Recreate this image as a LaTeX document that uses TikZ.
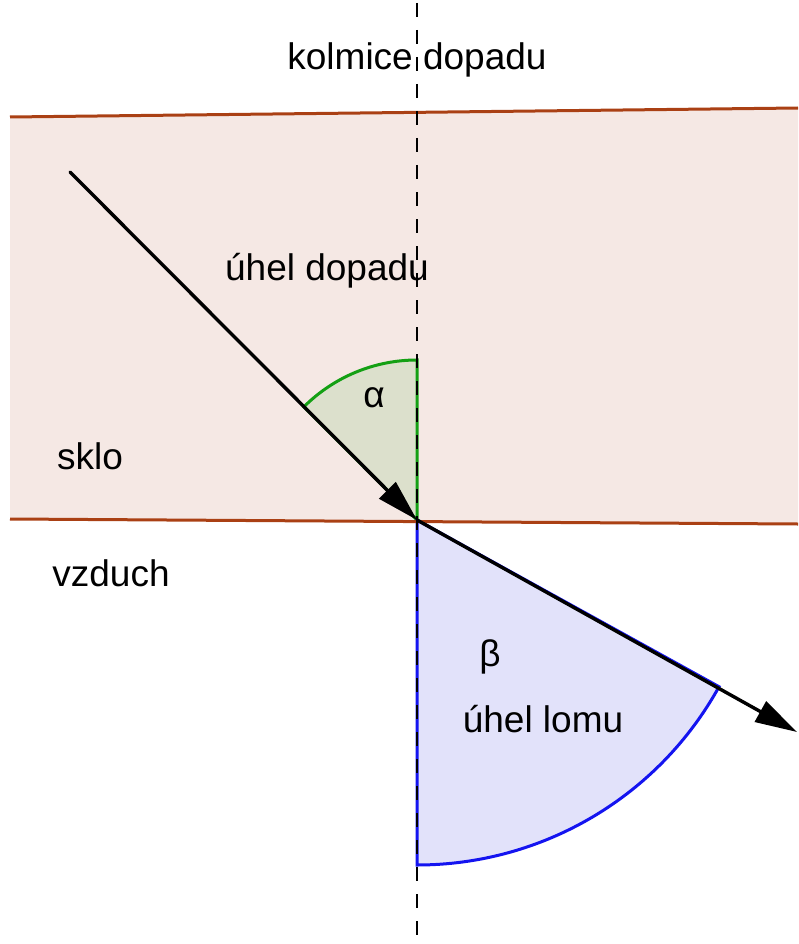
\documentclass[tikz,border=0pt]{standalone}
\usepackage{fontspec}
\setmainfont{Liberation Sans}
\usetikzlibrary{arrows.meta}
\definecolor{glass}{RGB}{245,232,228}
\definecolor{edge}{RGB}{170,64,20}
\definecolor{afill}{RGB}{220,224,204}
\definecolor{aline}{RGB}{20,160,20}
\definecolor{bfill}{RGB}{226,226,250}
\definecolor{bline}{RGB}{20,20,240}
\tikzset{
  lbl/.style={font=\fontsize{37}{44}\selectfont, inner sep=0pt},
  ray/.style={line width=3.4pt, line cap=round, -{Triangle[length=42pt,width=23pt]}},
  edgeline/.style={edge, line width=3pt},
  normal/.style={line width=2.6pt, dash pattern=on 14pt off 13pt},
}
\begin{document}
\begin{tikzpicture}[x=1pt,y=-1pt]
\useasboundingbox (0,0) rectangle (798,944);
% glass band
\coordinate (TL) at (10,117);
\coordinate (TR) at (798,108);
\coordinate (BL) at (10,519);
\coordinate (BR) at (798,524);
\coordinate (O) at (417,520);
\fill[glass] (TL) -- (TR) -- (BR) -- (BL) -- cycle;
% angle sectors
\filldraw[fill=afill, draw=aline, line width=3pt] (O) -- ++(0,-160) arc[start angle=-90, end angle=-135, radius=160] -- cycle;
\filldraw[fill=bfill, draw=bline, line width=3pt] (O) -- ++(0,345) arc[start angle=90, end angle=28.9, radius=345] -- cycle;
% boundary lines
\draw[edgeline] (TL) -- (TR);
\draw[edgeline] (BL) -- (BR);
% normal
\coordinate (N1) at (417,3);
\coordinate (N2) at (417,944);
\draw[normal] (N1) -- (N2);
% rays
\coordinate (S) at (70,172);
\coordinate (E) at (797,732);
\draw[ray] (S) -- (O);
\draw[ray] (O) -- (E);
% labels
\node[lbl] (kd) at (417,60) {kolmice dopadu};
\node[lbl] (ud) at (327,271) {úhel dopadu};
\node[lbl] (al) at (374,398) {α};
\node[lbl] (sk) at (90,456) {sklo};
\node[lbl] (vz) at (111,573) {vzduch};
\node[lbl] (be) at (490,657) {β};
\node[lbl] (ul) at (543,719) {úhel lomu};
\end{tikzpicture}
\end{document}
